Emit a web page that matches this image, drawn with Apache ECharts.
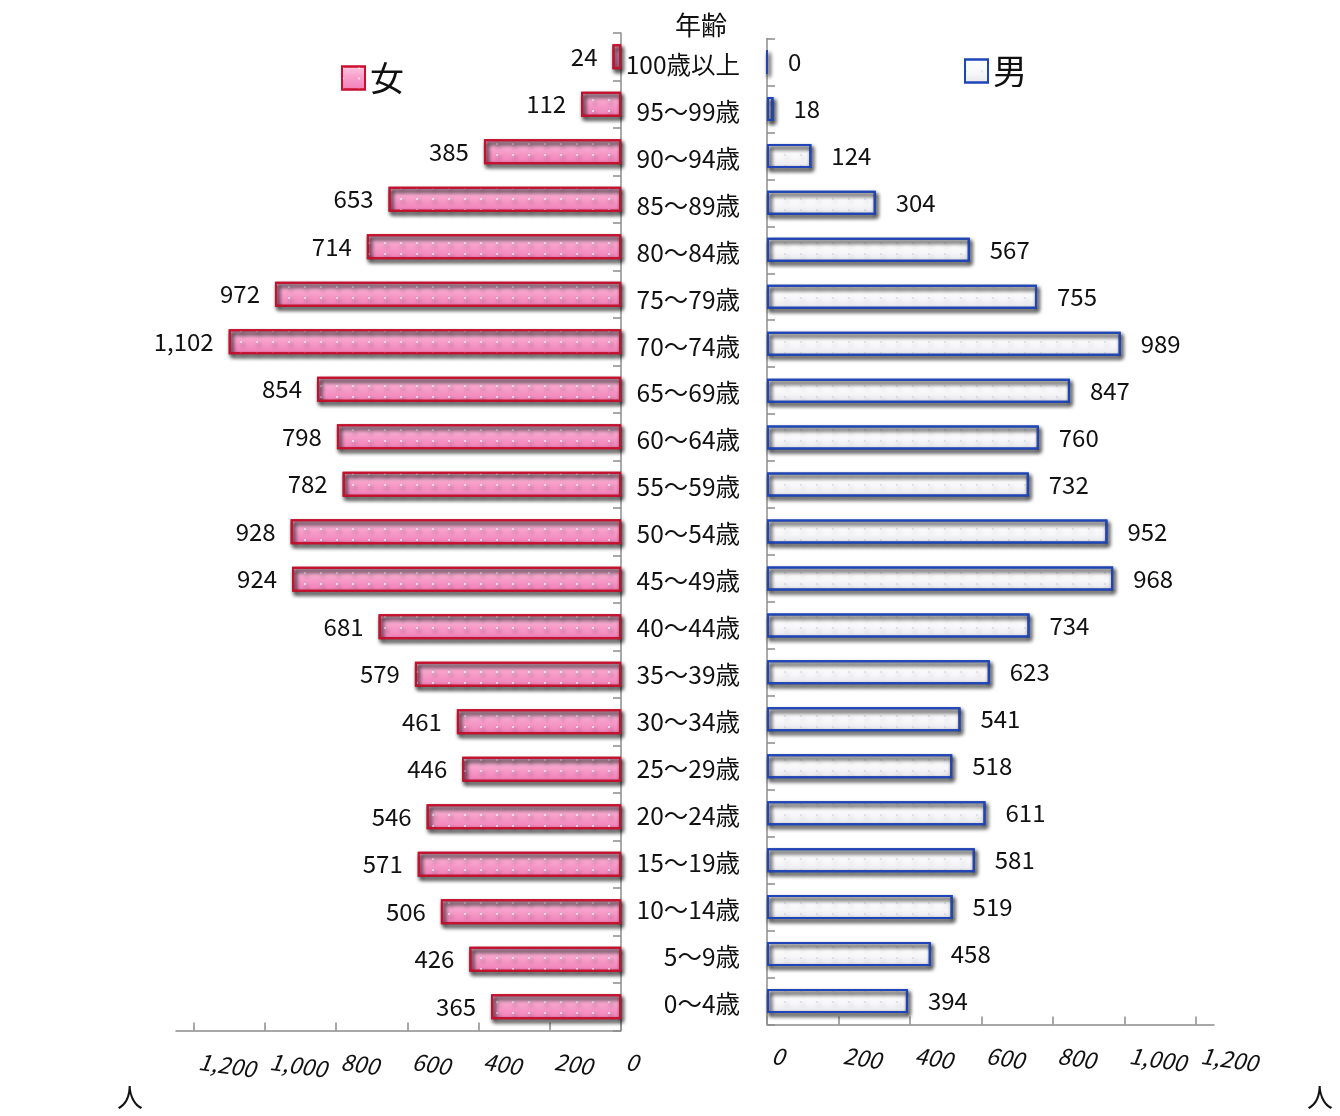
<!DOCTYPE html>
<html><head><meta charset="utf-8">
<script src="https://cdn.jsdelivr.net/npm/echarts@6/dist/echarts.min.js"></script>
<style>html,body{margin:0;padding:0;background:#fff}#c{width:1340px;height:1116px}</style>
</head><body><div id="c"></div>
<script>
const categories = ['100歳以上','95〜99歳','90〜94歳','85〜89歳','80〜84歳','75〜79歳','70〜74歳','65〜69歳','60〜64歳','55〜59歳','50〜54歳','45〜49歳','40〜44歳','35〜39歳','30〜34歳','25〜29歳','20〜24歳','15〜19歳','10〜14歳','5〜9歳','0〜4歳'];
const female = [24,112,385,653,714,972,1102,854,798,782,928,924,681,579,461,446,546,571,506,426,365];
const male = [0,18,124,304,567,755,989,847,760,732,952,968,734,623,541,518,611,581,519,458,394];
const tickValues = [0,200,400,600,800,1000,1200];

const FONT = '"Noto Sans CJK JP","Noto Sans",sans-serif';
const chart = echarts.init(document.getElementById('c'));
const fmt = v => Number(v).toLocaleString('en-US');
const axisGray = '#8c8c8c';

const xCommon = {
  type:'value', min:0, max:1250,
  splitLine:{show:false},
  axisLine:{show:true,lineStyle:{color:axisGray,width:1.5}},
  axisTick:{show:true,inside:true,length:8,lineStyle:{color:axisGray,width:1.5},customValues:tickValues},
  axisLabel:{customValues:tickValues,formatter:fmt,fontFamily:FONT,fontSize:23,fontStyle:'italic',color:'#111',rotate:-8,align:'left',padding:[0,0,0,5]}
};
const yCommon = {
  type:'category', data:categories, inverse:true,
  axisLine:{show:true,lineStyle:{color:axisGray,width:1.5}},
  axisTick:{show:true,inside:true,length:8,lineStyle:{color:axisGray,width:1.5}}
};

chart.setOption({
  animation:false,
  aria:{enabled:true,decal:{show:true}},
  textStyle:{fontFamily:FONT},
  title:{text:'年齢',left:696,top:7,textAlign:'center',textStyle:{fontFamily:FONT,fontSize:26,fontWeight:'normal',color:'#111'}},
  legend:[
    {data:['女'],icon:'rect',left:336,top:56,itemWidth:23,itemHeight:23,itemGap:10,textStyle:{fontFamily:FONT,fontSize:34,color:'#111'}},
    {data:['男'],icon:'rect',left:959,top:49,itemWidth:23,itemHeight:23,itemGap:11,textStyle:{fontFamily:FONT,fontSize:34,color:'#111'}}
  ],
  graphic:[
    {type:'text',left:117,top:1084,style:{text:'人',fontFamily:FONT,fontSize:26,fill:'#111'}},
    {type:'text',left:1307,top:1084,style:{text:'人',fontFamily:FONT,fontSize:26,fill:'#111'}}
  ],
  grid:[
    {left:176,width:445,top:33,height:997.5},
    {left:767,width:447,top:38.5,height:986}
  ],
  xAxis:[
    Object.assign({},xCommon,{gridIndex:0,inverse:true,axisLabel:Object.assign({},xCommon.axisLabel,{margin:30})}),
    Object.assign({},xCommon,{gridIndex:1,axisLabel:Object.assign({},xCommon.axisLabel,{margin:30})})
  ],
  yAxis:[
    Object.assign({},yCommon,{gridIndex:0,position:'right',axisLabel:{show:false}}),
    Object.assign({},yCommon,{gridIndex:1,position:'left',axisLabel:{show:true,margin:27,fontFamily:FONT,fontSize:24.5,color:'#111',verticalAlign:'top',lineHeight:5}})
  ],
  series:[
    {name:'女',type:'bar',xAxisIndex:0,yAxisIndex:0,data:female,barWidth:25,
     itemStyle:{
       color:new echarts.graphic.LinearGradient(0,0,0,1,[{offset:0,color:'#fccde4'},{offset:0.4,color:'#f8a4cd'},{offset:1,color:'#ef7db6'}]),
       borderColor:'#c8102e',borderWidth:2,
       shadowColor:'rgba(0,0,0,0.35)',shadowBlur:4,shadowOffsetX:2,shadowOffsetY:3,
       decal:{symbol:'circle',symbolSize:1,color:'rgba(255,255,255,0.85)',dashArrayX:[2,14],dashArrayY:[2,9],rotation:0}
     },
     label:{show:true,position:'left',distance:15,formatter:p=>fmt(p.value),fontFamily:FONT,fontSize:24,color:'#111'}},
    {name:'男',type:'bar',xAxisIndex:1,yAxisIndex:1,data:male,barWidth:24,
     itemStyle:{
       color:new echarts.graphic.LinearGradient(0,0,0,1,[{offset:0,color:'#ffffff'},{offset:0.6,color:'#f7f7f9'},{offset:1,color:'#e6e6ec'}]),
       borderColor:'#1f45b8',borderWidth:2,
       shadowColor:'rgba(0,0,0,0.3)',shadowBlur:4,shadowOffsetX:2,shadowOffsetY:3,
       decal:{symbol:'circle',symbolSize:1,color:'rgba(150,170,210,0.35)',dashArrayX:[2,14],dashArrayY:[2,9],rotation:0}
     },
     label:{show:true,position:'right',distance:20,formatter:p=>fmt(p.value),fontFamily:FONT,fontSize:24,color:'#111',padding:[4,0,0,0]}}
  ]
});
</script></body></html>
